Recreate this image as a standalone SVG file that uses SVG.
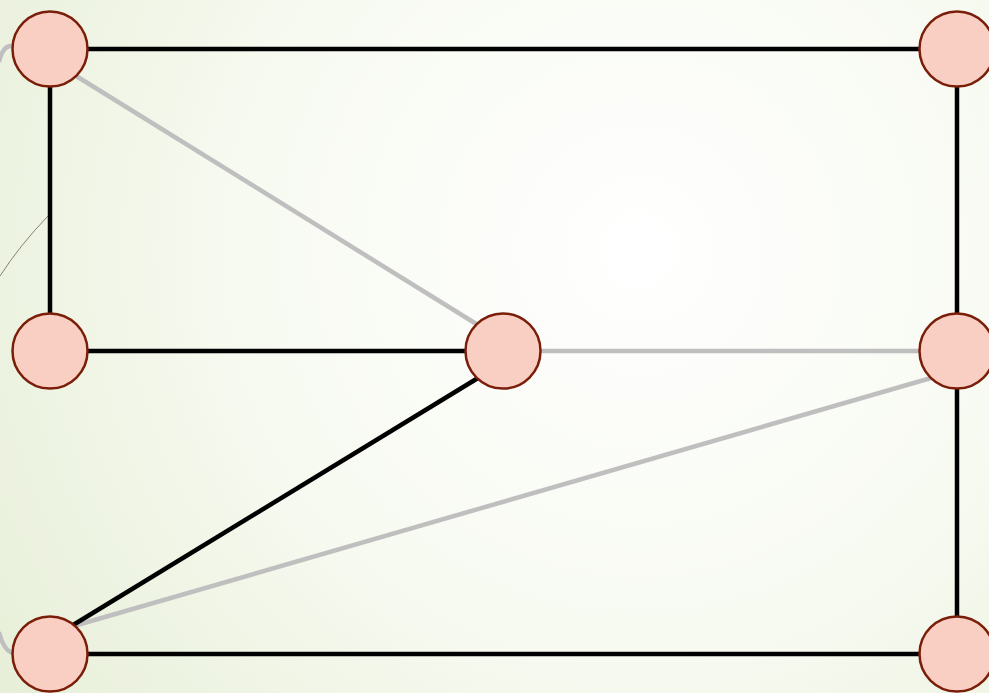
<svg xmlns="http://www.w3.org/2000/svg" width="989" height="693" viewBox="0 0 989 693">
<defs>
<radialGradient id="bg" cx="640" cy="250" r="800" gradientUnits="userSpaceOnUse">
<stop offset="0" stop-color="#ffffff"/>
<stop offset="0.5" stop-color="#f7faf1"/>
<stop offset="1" stop-color="#e6eed6"/>
</radialGradient>
<style>
.n{fill:#f9cfc3;stroke:#7a1e0a;stroke-width:2.5}
.b{stroke:#000;stroke-width:4.5;fill:none}
.g{stroke:#bfbfbf;stroke-width:4.5;fill:none}
</style>
</defs>
<rect width="989" height="693" fill="url(#bg)"/>
<g id="connectors">
<path class="g" d="M14 46 Q3 44 -1 62"/>
<path class="g" d="M14 653 Q4 652 -1 632"/>
<path d="M48 216 Q20 245 0 276" stroke="#8a8070" stroke-width="1" fill="none"/>
<line class="g" x1="60" y1="66" x2="478" y2="325"/>
<line class="g" x1="503" y1="351" x2="957" y2="351"/>
<line class="g" x1="931" y1="378" x2="60" y2="630"/>
<line class="b" x1="50" y1="49" x2="957" y2="49"/>
<line class="b" x1="50" y1="49" x2="50" y2="351"/>
<line class="b" x1="50" y1="351" x2="503" y2="351"/>
<line class="b" x1="478" y1="378" x2="60" y2="633"/>
<line class="b" x1="50" y1="654" x2="957" y2="654"/>
<line class="b" x1="957" y1="49" x2="957" y2="351"/>
<line class="b" x1="957" y1="351" x2="957" y2="654"/>
</g>
<g id="n1"><circle class="n" cx="50" cy="49" r="37.5"/></g>
<g id="n2"><circle class="n" cx="957" cy="49" r="37.5"/></g>
<g id="n3"><circle class="n" cx="50" cy="351" r="37.5"/></g>
<g id="n4"><circle class="n" cx="503" cy="351" r="37.5"/></g>
<g id="n5"><circle class="n" cx="957" cy="351" r="37.5"/></g>
<g id="n6"><circle class="n" cx="50" cy="654" r="37.5"/></g>
<g id="n7"><circle class="n" cx="957" cy="654" r="37.5"/></g>
</svg>
